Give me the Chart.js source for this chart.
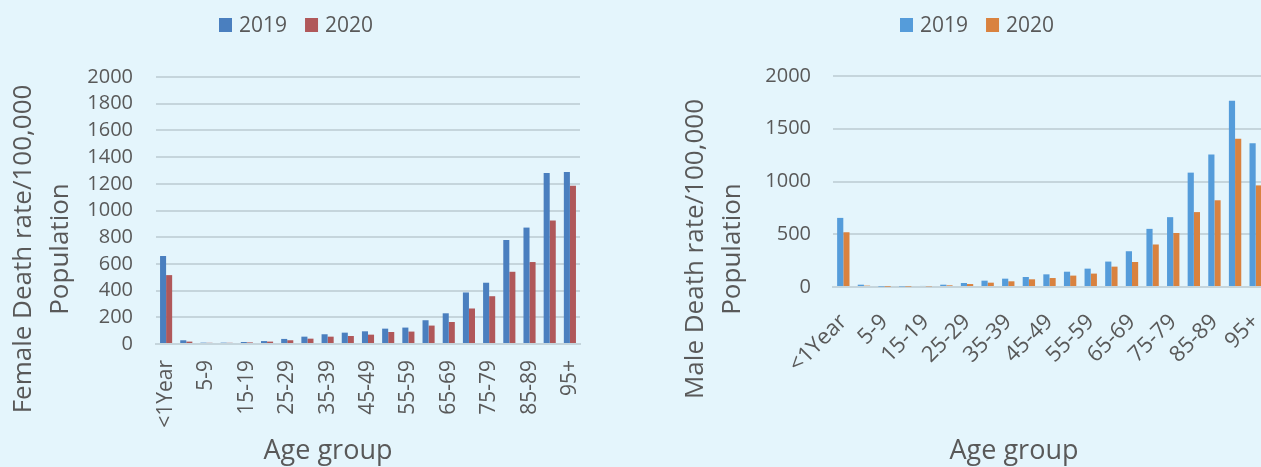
<!DOCTYPE html>
<html>
<head>
<meta charset="utf-8">
<script src="https://cdn.jsdelivr.net/npm/chart.js@4.4.1/dist/chart.umd.min.js"></script>
<style>
  html, body { margin: 0; padding: 0; background: #e4f5fc; width: 1261px; height: 467px; overflow: hidden; position: relative; }
  canvas { position: absolute; top: 0; }
  #female { left: 0; }
  #male { left: 630px; }
</style>
</head>
<body>
<canvas id="female" width="630" height="467"></canvas>
<canvas id="male" width="670" height="467"></canvas>
<script>
// ---- data ----
const categories = ['<1Year','1-4','5-9','10-14','15-19','20-24','25-29','30-34','35-39','40-44','45-49','50-54','55-59','60-64','65-69','70-74','75-79','80-84','85-89','90-94','95+'];
const seriesNames = ['2019', '2020'];
const female2019 = [659, 28, 10, 10, 15, 22, 38, 55, 73, 85, 95, 115, 123, 178, 230, 386, 459, 779, 872, 1281, 1288];
const female2020 = [516, 18, 9, 9, 12, 18, 28, 40, 55, 60, 70, 90, 93, 138, 165, 266, 358, 541, 614, 925, 1185];
const male2019 = [655, 22, 4, 5, 10, 22, 38, 60, 79, 95, 120, 145, 174, 241, 339, 551, 662, 1084, 1257, 1766, 1363];
const male2020 = [519, 13, 3, 4, 6, 16, 28, 41, 54, 73, 85, 108, 127, 193, 237, 403, 512, 710, 822, 1405, 963];
const femaleYTicks = [0, 200, 400, 600, 800, 1000, 1200, 1400, 1600, 1800, 2000];
const maleYTicks = [0, 500, 1000, 1500, 2000];
const femaleYTitle = ['Female Death rate/100,000', 'Population'];
const maleYTitle = ['Male Death rate/100,000', 'Population'];
const xTitle = 'Age group';

const FONT = "'Open Sans', sans-serif";
const TEXT = '#595959';
const GRID = '#c5d5dc';
Chart.defaults.font.family = FONT;
Chart.defaults.color = TEXT;

function decorPlugin(cfg) {
  return {
    id: 'decor_' + cfg.id,
    afterDraw(chart) {
      const ctx = chart.ctx;
      ctx.save();
      ctx.fillStyle = TEXT;
      // legend
      ctx.font = "21px " + FONT;
      ctx.textAlign = 'left';
      ctx.textBaseline = 'middle';
      let x = cfg.legendX;
      chart.data.datasets.forEach((ds) => {
        ctx.fillStyle = ds.backgroundColor;
        ctx.fillRect(x, cfg.legendY - 7, 13, 14);
        ctx.fillStyle = TEXT;
        ctx.fillText(ds.label, x + 20, cfg.legendY + 1);
        x += 20 + ctx.measureText(ds.label).width + 18;
      });
      // y title
      ctx.font = "26px " + FONT;
      ctx.textAlign = 'center';
      cfg.yTitle.forEach((line, i) => {
        ctx.save();
        ctx.translate(cfg.yTitleX[i], cfg.yTitleY);
        ctx.rotate(-Math.PI / 2);
        ctx.fillText(line, 0, 0);
        ctx.restore();
      });
      // x title
      ctx.font = "27px " + FONT;
      ctx.textBaseline = 'alphabetic';
      ctx.fillText(xTitle, cfg.xTitleX, cfg.xTitleY);
      ctx.restore();
    }
  };
}

function makeChart(cfg) {
  const canvas = document.getElementById(cfg.id);
  return new Chart(canvas, {
    type: 'bar',
    data: {
      labels: categories,
      datasets: [
        { label: seriesNames[0], data: cfg.s1, backgroundColor: cfg.c1, borderWidth: 0 },
        { label: seriesNames[1], data: cfg.s2, backgroundColor: cfg.c2, borderWidth: 0 }
      ]
    },
    options: {
      responsive: false,
      animation: false,
      devicePixelRatio: 1,
      layout: { autoPadding: false, padding: { left: 0, top: cfg.top, right: cfg.padRight, bottom: 0 } },
      datasets: { bar: { barPercentage: 1, categoryPercentage: 0.6 } },
      plugins: {
        legend: { display: false },
        tooltip: { enabled: false }
      },
      scales: {
        x: {
          grid: { display: false, drawTicks: false },
          border: { display: true, color: GRID, width: 2 },
          ticks: {
            autoSkip: false,
            minRotation: cfg.rot, maxRotation: cfg.rot,
            padding: cfg.xPad,
            font: { size: cfg.xFont, family: FONT }, color: TEXT,
            callback: function(v, i) { return i % 2 === 0 ? categories[i] : ''; }
          },
          afterFit: function(s) { s.height = cfg.xHeight; }
        },
        y: {
          min: cfg.yTicks[0], max: cfg.yTicks[cfg.yTicks.length - 1],
          grid: { color: GRID, lineWidth: 2, drawTicks: false },
          border: { display: false },
          ticks: {
            stepSize: cfg.yTicks[1] - cfg.yTicks[0], autoSkip: false, padding: cfg.yPad,
            font: { size: 20, family: FONT }, color: TEXT,
            callback: function(v) { return String(v); }
          },
          afterFit: function(s) { s.width = cfg.yWidth; }
        }
      }
    },
    plugins: [decorPlugin(cfg)]
  });
}

makeChart({
  id: 'female', s1: female2019, s2: female2020, c1: '#4a7fbf', c2: '#b0585a',
  yTicks: femaleYTicks, top: 77, padRight: 50, xHeight: 123, yWidth: 156, yPad: 23, rot: 90, xPad: 16, xFont: 21,
  legendX: 219, legendY: 25,
  yTitle: femaleYTitle, yTitleX: [24, 61], yTitleY: 249, xTitleX: 328, xTitleY: 459
});

makeChart({
  id: 'male', s1: male2019, s2: male2020, c1: '#559cda', c2: '#d9823f',
  yTicks: maleYTicks, top: 76, padRight: 34, xHeight: 180, yWidth: 203, yPad: 22, rot: 45, xPad: 22, xFont: 22,
  legendX: 270, legendY: 25,
  yTitle: maleYTitle, yTitleX: [66, 103], yTitleY: 249, xTitleX: 384, xTitleY: 459
});
</script>
</body>
</html>
